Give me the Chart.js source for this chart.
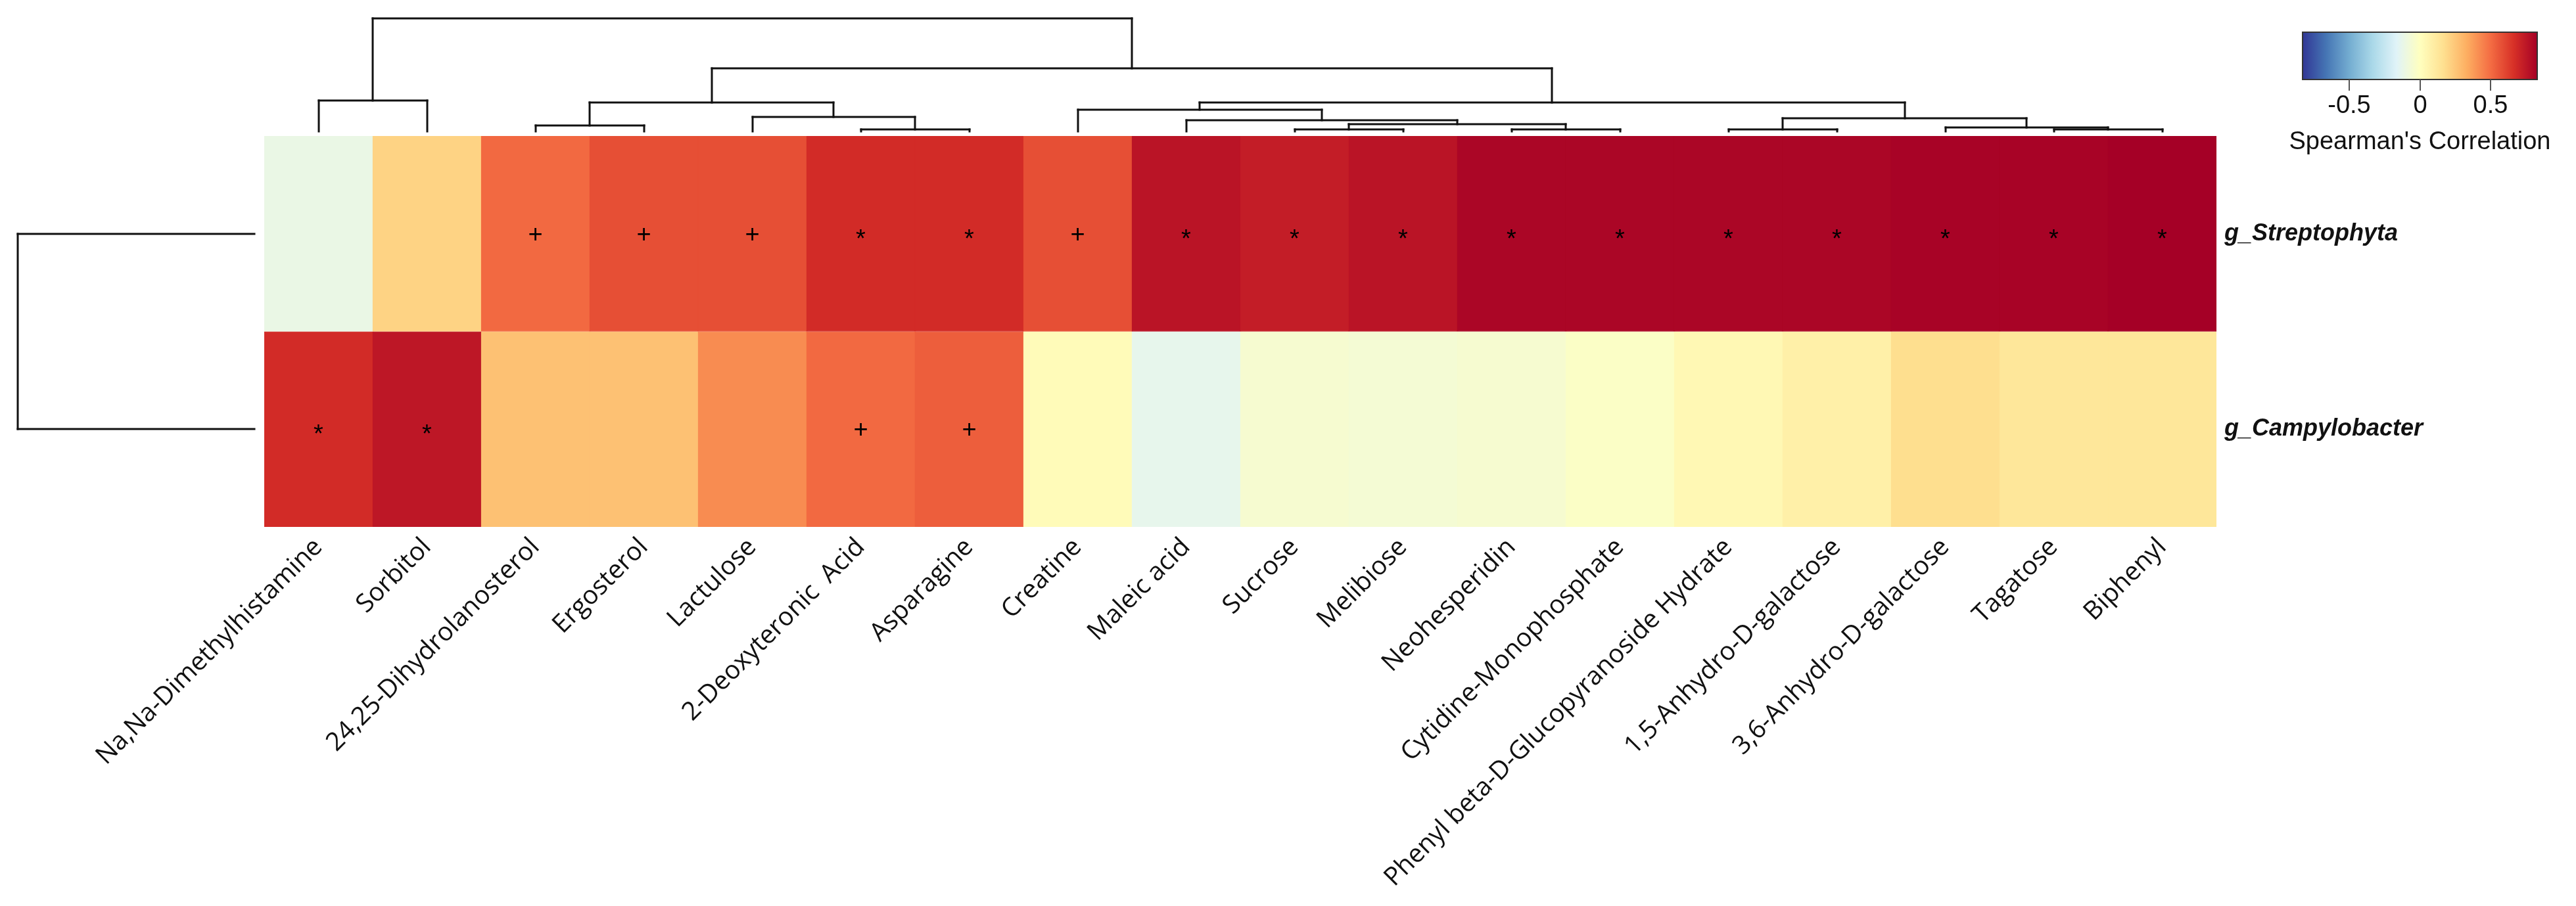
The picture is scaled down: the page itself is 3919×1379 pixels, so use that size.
<!DOCTYPE html>
<html>
<head>
<meta charset="utf-8">
<script src="https://cdn.jsdelivr.net/npm/chart.js@4.4.0/dist/chart.umd.min.js"></script>
<style>
  body { margin: 0; background: #fff; }
  #wrap { width: 3919px; height: 1379px; position: relative; }
</style>
</head>
<body>
<div id="wrap"><canvas id="heat"></canvas></div>
<script>
// columns, in dendrogram order
let metabolites = ['Na,Na-Dimethylhistamine', 'Sorbitol', '24,25-Dihydrolanosterol', 'Ergosterol', 'Lactulose',
    '2-Deoxyteronic  Acid', 'Asparagine', 'Creatine', 'Maleic acid', 'Sucrose', 'Melibiose', 'Neohesperidin',
    'Cytidine-Monophosphate', 'Phenyl beta-D-Glucopyranoside Hydrate', '1,5-Anhydro-D-galactose',
    '3,6-Anhydro-D-galactose', 'Tagatose', 'Biphenyl']

// rows, top to bottom
let taxa = ['g_Streptophyta', 'g_Campylobacter']

// spearman rho
let rhoStreptophyta = [-0.11, 0.21, 0.51, 0.58, 0.58, 0.68, 0.68, 0.58, 0.76, 0.73, 0.76, 0.81, 0.81, 0.81, 0.81, 0.82, 0.82, 0.83]
let rhoCampylobacter = [0.68, 0.75, 0.27, 0.27, 0.42, 0.51, 0.54, 0.02, -0.13, -0.05, -0.06, -0.05, -0.02, 0.04, 0.08, 0.17, 0.13, 0.13]

// significance marks
let sigStreptophyta = ['', '', '+', '+', '+', '*', '*', '+', '*', '*', '*', '*', '*', '*', '*', '*', '*', '*']
let sigCampylobacter = ['*', '*', '', '', '', '+', '+', '', '', '', '', '', '', '', '', '', '', '']

// column dendrogram, hclust style (negative = leaf number, positive = earlier merge)
let colMerge = [[-6, -7], [-10, -11], [-12, -13], [-14, -15], [-17, -18], [-16, 5], [-3, -4], [2, 3], [-9, 8],
    [4, 6], [-5, 1], [-8, 9], [7, 11], [12, 10], [-1, -2], [13, 14], [15, 16]]
let colHeight = [0.02, 0.02, 0.02, 0.02, 0.02, 0.038, 0.055, 0.066, 0.101, 0.118, 0.13, 0.193, 0.257, 0.257, 0.274, 0.557, 1.0]

// row dendrogram
let rowMerge = [[-1, -2]]
let rowHeight = [1.0]

// colour key
let corrLimit = 0.83
let legendTicks = [-0.5, 0, 0.5]
let legendTitle = "Spearman's Correlation"
let paletteRdYlBu = ['#313695', '#4575b4', '#74add1', '#abd9e9', '#e0f3f8', '#ffffbf',
    '#fee090', '#fdae61', '#f46d43', '#d73027', '#a50026']

let rhoRows = [rhoStreptophyta, rhoCampylobacter]
let sigRows = [sigStreptophyta, sigCampylobacter]

const hexToRgb = h => [1, 3, 5].map(i => parseInt(h.substr(i, 2), 16))

const corrColor = (v) => {
    let n = paletteRdYlBu.length - 1
    let t = (v + corrLimit) / (2 * corrLimit) * n
    t = Math.max(0, Math.min(n, t))
    let i = Math.min(Math.floor(t), n - 1)
    let f = t - i
    let a = hexToRgb(paletteRdYlBu[i]), b = hexToRgb(paletteRdYlBu[i + 1])
    return 'rgb(' + a.map((c, k) => Math.round(c + (b[k] - c) * f)).join(',') + ')'
}

// row i (top to bottom) sits between y = rowBase and rowBase+1
const rowBase = i => taxa.length - 1 - i

// walk an hclust merge table, returns segments in (pos, height) units
const dendroSegments = (merge, height, leafPos) => {
    let nodes = []
    let segs = []
    const child = c => c < 0 ? { p: leafPos(-c - 1), h: 0 } : nodes[c - 1]
    merge.forEach((m, k) => {
        let a = child(m[0]), b = child(m[1]), h = height[k]
        segs.push([a.p, a.h, a.p, h], [a.p, h, b.p, h], [b.p, h, b.p, b.h])
        nodes.push({ p: (a.p + b.p) / 2, h: h })
    })
    return segs
}

const dendroPlugin = {
    id: 'dendro',
    afterDatasetsDraw(chart) {
        const ctx = chart.ctx
        const xs = chart.scales.x, ys = chart.scales.y
        ctx.save()
        ctx.strokeStyle = '#111'
        ctx.lineWidth = 3
        ctx.lineCap = 'square'

        // top tree: height -> y value above the heatmap
        const colY = h => ys.getPixelForValue(taxa.length + 0.022 + h * 0.581)
        dendroSegments(colMerge, colHeight, j => j).forEach(s => {
            ctx.beginPath()
            ctx.moveTo(Math.round(xs.getPixelForValue(s[0])), Math.round(colY(s[1])))
            ctx.lineTo(Math.round(xs.getPixelForValue(s[2])), Math.round(colY(s[3])))
            ctx.stroke()
        })

        // left tree: height -> x value left of the heatmap
        const rowX = h => xs.getPixelForValue(-0.591 - h * 2.182)
        dendroSegments(rowMerge, rowHeight, i => rowBase(i) + 0.5).forEach(s => {
            ctx.beginPath()
            ctx.moveTo(Math.round(rowX(s[1])), Math.round(ys.getPixelForValue(s[0])))
            ctx.lineTo(Math.round(rowX(s[3])), Math.round(ys.getPixelForValue(s[2])))
            ctx.stroke()
        })

        // significance marks
        ctx.fillStyle = '#000'
        ctx.font = '38px "Liberation Sans", Arial, sans-serif'
        ctx.textAlign = 'left'
        ctx.textBaseline = 'alphabetic'
        sigRows.forEach((row, i) => {
            row.forEach((s, j) => {
                if (!s) return
                let m = ctx.measureText(s)
                let cx = xs.getPixelForValue(j)
                let cy = ys.getPixelForValue(rowBase(i) + 0.5)
                let w = m.actualBoundingBoxRight + m.actualBoundingBoxLeft
                ctx.fillText(s, cx - w / 2 + m.actualBoundingBoxLeft,
                    cy + (m.actualBoundingBoxAscent - m.actualBoundingBoxDescent) / 2)
            })
        })
        ctx.restore()
    }
}

const colorKeyPlugin = {
    id: 'colorKey',
    afterDraw(chart) {
        const ctx = chart.ctx
        let x0 = 3503, x1 = 3860, y0 = 49, y1 = 121
        let grad = ctx.createLinearGradient(x0, 0, x1, 0)
        paletteRdYlBu.forEach((c, i) => grad.addColorStop(i / (paletteRdYlBu.length - 1), c))
        ctx.save()
        ctx.fillStyle = grad
        ctx.fillRect(x0, y0, x1 - x0, y1 - y0)
        ctx.strokeStyle = '#333'
        ctx.lineWidth = 2
        ctx.strokeRect(x0, y0, x1 - x0, y1 - y0)

        const keyX = v => x0 + (v + corrLimit) / (2 * corrLimit) * (x1 - x0)
        ctx.strokeStyle = '#555'
        ctx.fillStyle = '#111'
        ctx.font = '38px "Liberation Sans", Arial, sans-serif'
        ctx.textAlign = 'center'
        ctx.textBaseline = 'middle'
        legendTicks.forEach(v => {
            let x = Math.round(keyX(v))
            ctx.beginPath()
            ctx.moveTo(x, y1)
            ctx.lineTo(x, y1 + 17)
            ctx.stroke()
            ctx.fillText(String(v), x, 162)
        })
        ctx.fillText(legendTitle, (x0 + x1) / 2, 217)
        ctx.restore()
    }
}

Chart.defaults.devicePixelRatio = 1

const heatmap = new Chart(document.getElementById('heat').getContext('2d'), {
    type: 'bar',
    data: {
        labels: metabolites,
        datasets: taxa.map((t, i) => ({
            label: t,
            data: rhoRows[i].map(() => [rowBase(i), rowBase(i) + 1]),
            backgroundColor: rhoRows[i].map(corrColor),
            borderColor: rhoRows[i].map(corrColor),
            borderWidth: 1,
            borderSkipped: false,
            barPercentage: 1,
            categoryPercentage: 1,
            grouped: false
        }))
    },
    options: {
        responsive: true,
        maintainAspectRatio: false,
        animation: false,
        layout: { padding: { left: 402, top: 207, right: 0, bottom: 0 } },
        plugins: { legend: { display: false }, tooltip: { enabled: false } },
        scales: {
            x: {
                grid: { display: false, drawTicks: false },
                border: { display: false },
                ticks: {
                    autoSkip: false,
                    minRotation: 45,
                    maxRotation: 45,
                    padding: 8,
                    color: '#111',
                    font: { family: '"Open Sans", sans-serif', size: 39 }
                },
                afterFit: (scale) => { scale.height = 1379 - 802 }
            },
            y: {
                position: 'right',
                min: 0,
                max: taxa.length,
                grid: { display: false, drawTicks: false },
                border: { display: false },
                afterBuildTicks: (scale) => {
                    scale.ticks = taxa.map((t, i) => ({ value: rowBase(i) + 0.5 }))
                },
                ticks: {
                    padding: 12,
                    color: '#111',
                    font: { family: '"Liberation Sans", Arial, sans-serif', size: 36, style: 'italic', weight: 'bold' },
                    callback: (value) => taxa[taxa.length - 1 - Math.floor(value)]
                },
                afterFit: (scale) => { scale.width = 3919 - 3372 }
            }
        }
    },
    plugins: [dendroPlugin, colorKeyPlugin]
})
</script>
</body>
</html>
